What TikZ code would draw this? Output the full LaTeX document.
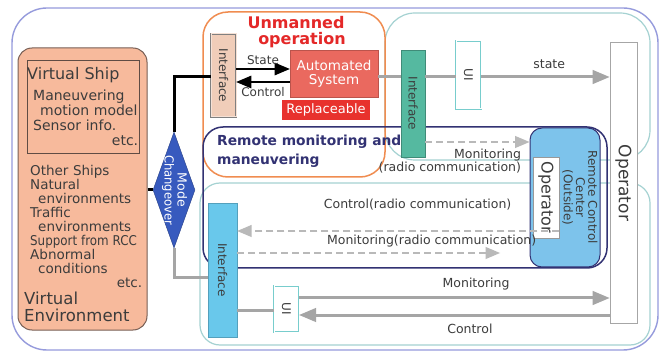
\documentclass[tikz,border=0pt]{standalone}
\usepackage{fontspec}
\setmainfont{DejaVu Sans}
\usepackage{graphicx}
\usepackage{tikz}
\usetikzlibrary{shapes,arrows,positioning,calc,shapes.geometric}
\usepackage{xcolor}

\definecolor{envfill}{RGB}{247,186,156}
\definecolor{envdraw}{RGB}{120,95,85}
\definecolor{outerblue}{RGB}{150,155,220}
\definecolor{tealframe}{RGB}{165,210,210}
\definecolor{unmanorange}{RGB}{240,140,80}
\definecolor{unmanred}{RGB}{228,40,40}
\definecolor{tanfill}{RGB}{240,205,185}
\definecolor{autofill}{RGB}{234,105,95}
\definecolor{replfill}{RGB}{232,50,45}
\definecolor{ifgreen}{RGB}{85,185,160}
\definecolor{uiteal}{RGB}{120,205,205}
\definecolor{navy}{RGB}{50,50,115}
\definecolor{rccblue}{RGB}{125,195,235}
\definecolor{ifblue}{RGB}{105,200,235}
\definecolor{modeblue}{RGB}{55,90,190}
\definecolor{linegray}{RGB}{165,165,165}
\definecolor{dashgray}{RGB}{185,185,185}
\definecolor{textgray}{RGB}{60,60,60}

\newcommand{\vtext}[1]{\rotatebox{-90}{#1}}
\newcommand{\fs}[2]{\fontsize{#1}{#2}\selectfont}

\begin{document}
\begin{tikzpicture}[x=1pt, y=-1pt,
    lbl/.style={font=\fs{12.5}{13.5}, text=textgray},
    gline/.style={line width=3pt, draw=linegray},
    garrow/.style={gline, -triangle 45},
    darrow/.style={line width=2.4pt, draw=dashgray, dash pattern=on 7pt off 4pt, -triangle 45},
    karrow/.style={line width=2.6pt, -triangle 45},
    panel/.style={inner sep=0pt, font=\fs{12}{13}, text=textgray}
]
    \useasboundingbox (0,0) rectangle (667,358);
    \fill[white] (0,0) rectangle (667,358);

    % Frames
    \draw[line width=1.4pt, outerblue, rounded corners=35pt] (12,8) rectangle (658,350);
    \draw[line width=1.2pt, tealframe, rounded corners=30pt] (385,13) rectangle (650,160);
    \draw[line width=1.2pt, tealframe, rounded corners=20pt] (200,183) rectangle (650,345);
    \draw[line width=1.5pt, unmanorange, rounded corners=25pt] (203,12) rectangle (385,177);
    \draw[line width=1.5pt, navy, rounded corners=20pt] (203,127) rectangle (607,268);

    % Rows for connectors
    \coordinate (row_state) at (0,69);
    \coordinate (row_control) at (0,82);
    \coordinate (row_link) at (0,77);
    \coordinate (row_radio_mon) at (0,142);
    \coordinate (row_radio_ctrl) at (0,231);
    \coordinate (row_radio_back) at (0,253);
    \coordinate (row_switch) at (0,278);
    \coordinate (row_monitor) at (0,298);
    \coordinate (row_ui) at (0,310);
    \coordinate (row_control_back) at (0,315);
    \coordinate (radio_end) at (500,253);

    % Virtual environment
    \node[draw=envdraw, fill=envfill, line width=1pt, rounded corners=14pt, minimum width=129, minimum height=282] (virtual_env) at (82.5,189) {};
    \node[draw=envdraw!80!black, line width=0.8pt, minimum width=112, minimum height=93] (virtual_ship) at (83,106.5) {};
    \node[panel, anchor=north west, font=\fs{16}{17}] at (27,67) {Virtual Ship};
    \node[panel, anchor=north west, font=\fs{14}{15}, text width=105, align=left] at (33,90) {Maneuvering\\\hspace*{7pt}motion model\\Sensor info.\\\hspace*{\fill}etc.};
    \node[panel, anchor=north west, font=\fs{13.5}{14}, text width=112, align=left] at (30,165) {Other Ships\\Natural\\\hspace*{8pt}environments\\Traffic\\\hspace*{8pt}environments\\\scalebox{0.88}[1]{Support from RCC}\\Abnormal\\\hspace*{8pt}conditions\\\hspace*{\fill}etc.};
    \node[panel, anchor=north west, font=\fs{16.5}{17}, align=left] at (24,292) {Virtual\\Environment};

    % Mode changeover
    \node[diamond, draw=modeblue!70!black, fill=modeblue, inner sep=0pt, minimum width=42, minimum height=116,
        label={[text=white, font=\fs{12.5}{12}]center:\vtext{\begin{tabular}{@{}c@{}}Mode\\\scalebox{0.92}[1]{Changeover}\end{tabular}}}] (mode_switch) at (174,190) {};

    % Unmanned operation
    \node[font=\bfseries\fs{16}{16}, text=unmanred, align=center] (unmanned_title) at (296,32) {Unmanned\\\hspace*{12pt}operation};
    \node[draw=gray, double=tanfill!60!white, double distance=1pt, fill=tanfill, minimum width=25, minimum height=83, panel] (iface_auto) at (223.5,75.5) {\vtext{Interface}};
    \node[draw=autofill!80!black, fill=autofill, text=white, minimum width=88, minimum height=47, align=center, font=\fs{13.5}{14}, inner sep=0pt] (auto_sys) at (334,73.5) {Automated\\System};
    \node[fill=replfill, text=white, minimum width=88, minimum height=20, font=\fs{13}{13}, inner sep=0pt] (replaceable) at (326,110) {Replaceable};

    % Remote monitoring and maneuvering
    \node[anchor=north west, font=\bfseries\fs{13.8}{19}, text=navy, align=left, inner sep=0pt] (remote_title) at (217,135) {Remote monitoring and\\maneuvering};

    % Ship side
    \node[draw=ifgreen!75!black, fill=ifgreen, minimum width=24, minimum height=107, panel] (iface_ship) at (413,103.5) {\vtext{Interface}};
    \node[draw=uiteal, double=white, double distance=1pt, fill=white, minimum width=25, minimum height=68, panel] (ui_ship) at (468.5,75) {\vtext{UI}};
    \node[draw=gray!70, fill=white, line width=1pt, minimum width=27, minimum height=280, panel, font=\fs{17}{18}] (operator) at (623.5,183) {\vtext{Operator}};

    % Remote side
    \node[draw=navy, fill=rccblue, line width=1pt, rounded corners=12pt, minimum width=70, minimum height=139, panel, font=\fs{12}{11}] (rcc) at (565,197.5) {\hspace*{28pt}\vtext{\begin{tabular}{@{}c@{}}Remote Control\\Center\\(Outside)\end{tabular}}};
    \node[draw=gray!80, fill=white, line width=0.8pt, minimum width=26, minimum height=81, panel, font=\fs{16}{17}] (rcc_operator) at (546,197.5) {\vtext{Operator}};
    \node[draw=ifblue!80!black, fill=ifblue, minimum width=29, minimum height=134, panel] (iface_remote) at (222.5,270) {\vtext{Interface}};
    \node[draw=uiteal, double=white, double distance=1pt, fill=white, minimum width=25, minimum height=46, panel] (ui_remote) at (286.5,309) {\vtext{UI}};

    % Mode changeover links
    \draw[line width=3pt] (virtual_env.east |- mode_switch) -- (mode_switch.west);
    \draw[line width=3pt] (mode_switch.north) |- (iface_auto.west |- row_link);
    \draw[gline] (mode_switch.south) |- (iface_remote.west |- row_switch);

    % Unmanned operation arrows
    \draw[karrow] (iface_auto.east |- row_state) -- node[above, lbl, font=\fs{12}{13}] {State} (auto_sys.west |- row_state);
    \draw[karrow] (auto_sys.west |- row_control) -- node[below=1pt, lbl, font=\fs{12}{13}] {Control} (iface_auto.east |- row_control);
    \draw[gline] (auto_sys.east |- row_link) -- (iface_ship.west |- row_link);
    \draw[gline] (iface_ship.east |- row_link) -- (ui_ship.west |- row_link);
    \draw[garrow] (ui_ship.east |- row_link) -- node[pos=0.53, above=3pt, lbl] {state} (operator.west |- row_link);

    % Radio communication
    \draw[darrow] (iface_ship.east |- row_radio_mon) -- node[pos=1, anchor=north east, align=right, lbl, xshift=-4pt, yshift=-2pt] {Monitoring\\(radio communication)} (rcc.west |- row_radio_mon);
    \draw[darrow] (rcc_operator.east |- row_radio_ctrl) -- node[pos=0.44, above=16pt, lbl] {Control(radio communication)} (iface_remote.east |- row_radio_ctrl);
    \draw[darrow] (iface_remote.east |- row_radio_back) -- node[pos=0.74, above=1pt, lbl] {Monitoring(radio communication)} (radio_end);

    % Remote UI
    \draw[gline] (iface_remote.east |- row_ui) -- (ui_remote.west |- row_ui);
    \draw[garrow] (ui_remote.east |- row_monitor) -- node[pos=0.57, above=3pt, lbl] {Monitoring} (operator.west |- row_monitor);
    \draw[garrow] (operator.west |- row_control_back) -- node[pos=0.45, below=4pt, lbl] {Control} (ui_remote.east |- row_control_back);
\end{tikzpicture}
\end{document}
